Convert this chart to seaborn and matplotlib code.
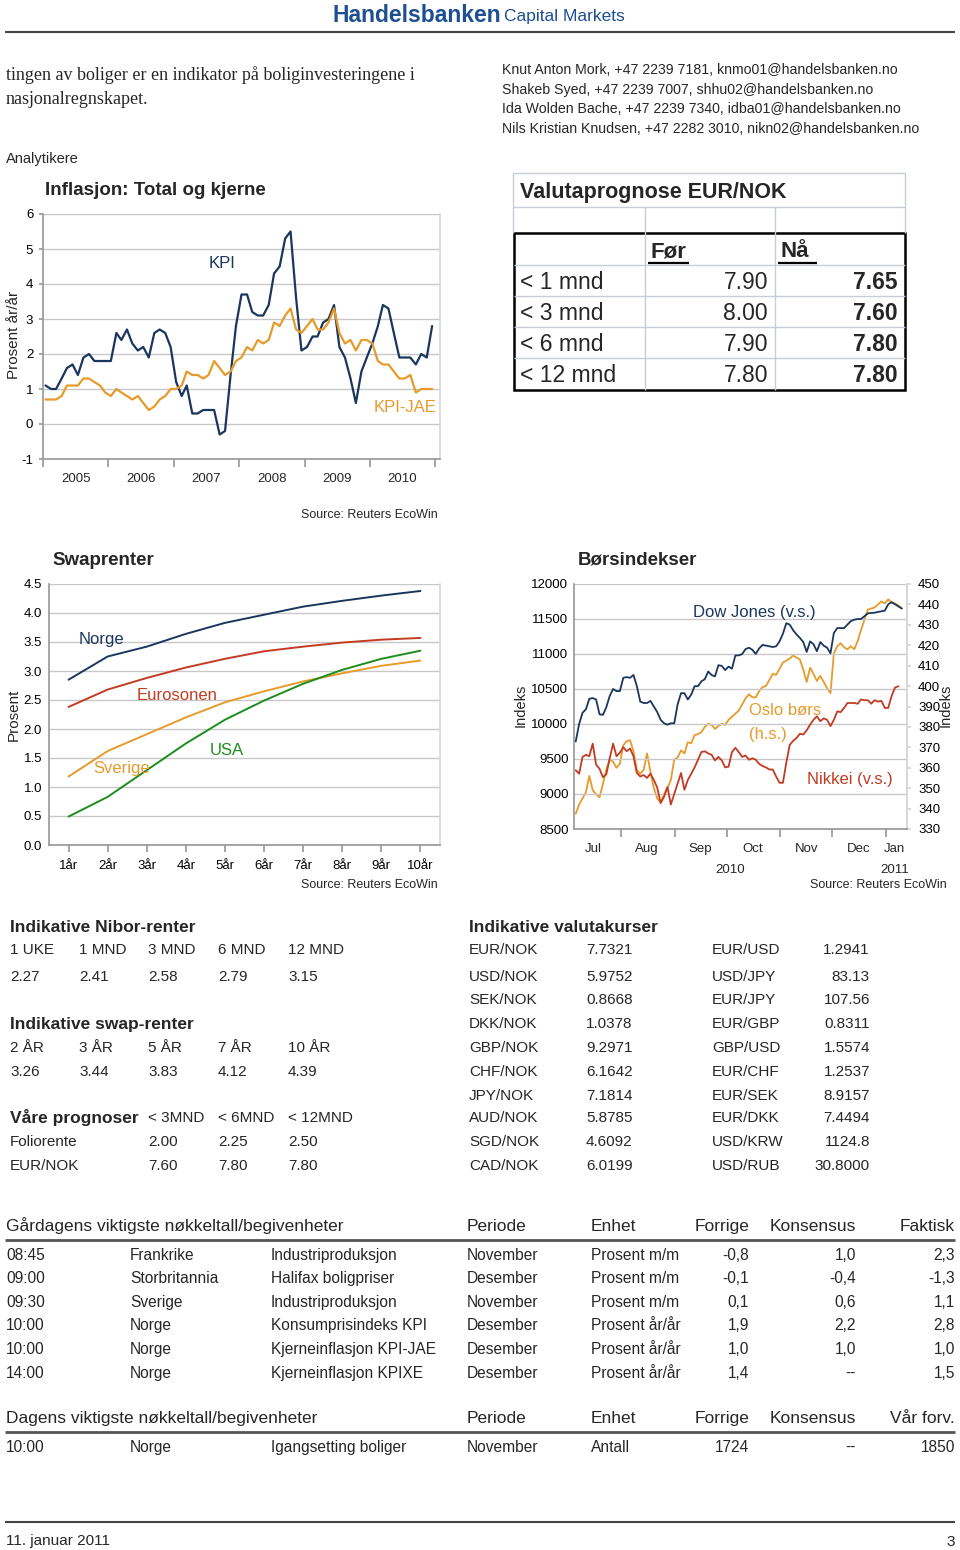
import matplotlib
matplotlib.use("Agg")
import matplotlib.pyplot as plt
import matplotlib.dates as mdates
import matplotlib.ticker as mticker
import numpy as np
import pandas as pd
import seaborn as sns

# ---------------- data ----------------
# Inflasjon: Total og kjerne (monthly, 2005-2010)
kpi = [1.1, 1.0, 1.0, 1.3, 1.6, 1.7, 1.4, 1.9, 2.0, 1.8, 1.8, 1.8,
       1.8, 2.6, 2.4, 2.7, 2.3, 2.1, 2.2, 1.9, 2.6, 2.7, 2.6, 2.2,
       1.2, 0.8, 1.1, 0.3, 0.3, 0.4, 0.4, 0.4, -0.3, -0.2, 1.4, 2.8,
       3.7, 3.7, 3.2, 3.1, 3.1, 3.4, 4.3, 4.5, 5.3, 5.5, 3.6, 2.1,
       2.2, 2.5, 2.5, 2.9, 3.0, 3.4, 2.2, 1.9, 1.3, 0.6, 1.5, 1.9,
       2.3, 2.8, 3.4, 3.3, 2.6, 1.9, 1.9, 1.9, 1.7, 2.0, 1.9, 2.8]
kpi_jae = [0.7, 0.7, 0.7, 0.8, 1.1, 1.1, 1.1, 1.3, 1.3, 1.2, 1.1, 0.9,
           0.8, 1.0, 0.9, 0.8, 0.7, 0.8, 0.6, 0.4, 0.5, 0.7, 0.8, 1.0,
           1.0, 1.1, 1.5, 1.4, 1.4, 1.3, 1.4, 1.8, 1.6, 1.4, 1.5, 1.8,
           1.9, 2.2, 2.1, 2.4, 2.3, 2.4, 2.9, 2.8, 3.1, 3.3, 2.7, 2.6,
           2.8, 3.0, 2.7, 2.7, 2.9, 3.3, 2.6, 2.3, 2.4, 2.1, 2.4, 2.4,
           2.3, 1.8, 1.7, 1.7, 1.5, 1.3, 1.3, 1.4, 0.9, 1.0, 1.0, 1.0]
inf_dates = pd.date_range("2005-01-01", periods=72, freq="MS") + pd.Timedelta(days=14)
inf_years = ["2005", "2006", "2007", "2008", "2009", "2010"]

# Swaprenter
swap_tenors = ["1år", "2år", "3år", "4år", "5år", "6år", "7år", "8år", "9år", "10år"]
swap_norge = [2.85, 3.25, 3.42, 3.64, 3.83, 3.97, 4.11, 4.21, 4.30, 4.38]
swap_euro = [2.38, 2.68, 2.88, 3.06, 3.21, 3.34, 3.42, 3.49, 3.54, 3.57]
swap_sverige = [1.18, 1.62, 1.91, 2.20, 2.46, 2.65, 2.82, 2.96, 3.09, 3.18]
swap_usa = [0.49, 0.83, 1.29, 1.75, 2.16, 2.49, 2.78, 3.02, 3.21, 3.35]

# Børsindekser (Jul 2010 - Jan 2011)
bors_dates = pd.date_range("2010-07-06", "2011-01-10", periods=97)
dow = [9750, 10000, 10160, 10210, 10360, 10370, 10350, 10140, 10130, 10240,
       10400, 10500, 10470, 10470, 10660, 10670, 10660, 10700, 10540, 10320,
       10300, 10300, 10330, 10250, 10170, 10060, 10010, 9990, 10010, 10010,
       10280, 10440, 10440, 10350, 10420, 10540, 10540, 10610, 10640, 10750,
       10700, 10680, 10840, 10830, 10770, 10820, 10790, 10980, 10980, 11000,
       11070, 11090, 11060, 11000, 11080, 11130, 11120, 11110, 11100, 11110,
       11180, 11290, 11440, 11420, 11340, 11280, 11230, 11170, 11030, 11180,
       11140, 11040, 11170, 11120, 11090, 11010, 11300, 11370, 11370, 11370,
       11420, 11470, 11490, 11500, 11500, 11540, 11580, 11586, 11590, 11600,
       11610, 11620, 11710, 11740, 11710, 11680, 11650]
oslo = [337.5, 342, 345, 348, 356, 349, 347, 345.5, 352, 359,
        364, 363, 360, 362, 371, 373, 373.5, 368, 359, 357,
        359, 367, 358, 350, 345, 343, 347, 350, 354, 364,
        365, 368.5, 367, 372.5, 372, 376, 376.5, 377.5, 380, 381.5,
        381, 379, 380.5, 381.5, 381, 383.5, 385, 386.5, 388, 391,
        394, 396, 394.5, 394.5, 397.5, 399.5, 400, 403, 406, 405.5,
        408.5, 411.5, 412.5, 413.5, 415, 414, 413, 408, 402, 409,
        406, 402.5, 405, 402, 399, 396.5, 416, 419.5, 421, 419,
        418, 419.5, 418, 422, 427.5, 432.5, 437.5, 438, 438.5, 440,
        441.5, 440.5, 442.5, 441, 440.5, 439.5, 438]
nikkei = [9340, 9290, 9530, 9560, 9540, 9720, 9420, 9360, 9240, 9280,
          9510, 9720, 9540, 9590, 9670, 9610, 9650, 9540, 9300, 9250,
          9270, 9230, 9290, 9200, 9090, 8870, 8960, 9100, 8850, 9000,
          9150, 9300, 9060, 9200, 9290, 9380, 9490, 9600, 9610, 9580,
          9560, 9480, 9530, 9480, 9380, 9390, 9600, 9660, 9600, 9530,
          9550, 9490, 9510, 9490, 9430, 9400, 9380, 9350, 9350, 9250,
          9160, 9160, 9450, 9700, 9760, 9800, 9860, 9850, 9910, 9990,
          10060, 10110, 10040, 10080, 10060, 9970, 10060, 10180, 10170, 10230,
          10300, 10300, 10300, 10290, 10350, 10340, 10340, 10290, 10340, 10320,
          10330, 10230, 10230, 10400, 10520, 10540, np.nan]
bors_months = ["Jul", "Aug", "Sep", "Oct", "Nov", "Dec", "Jan"]
bors_month_pos = ["2010-07-16", "2010-08-16", "2010-09-16", "2010-10-16",
                  "2010-11-16", "2010-12-16", "2011-01-06"]

# Valutaprognose EUR/NOK
vp_horizon = ["< 1 mnd", "< 3 mnd", "< 6 mnd", "< 12 mnd"]
vp_before = ["7.90", "8.00", "7.90", "7.80"]
vp_now = ["7.65", "7.60", "7.80", "7.80"]

# Nibor / swap / prognoser
nibor_labels = ["1 UKE", "1 MND", "3 MND", "6 MND", "12 MND"]
nibor_values = ["2.27", "2.41", "2.58", "2.79", "3.15"]
swap_labels = ["2 ÅR", "3 ÅR", "5 ÅR", "7 ÅR", "10 ÅR"]
swap_values = ["3.26", "3.44", "3.83", "4.12", "4.39"]
prog_cols = ["< 3MND", "< 6MND", "< 12MND"]
prog_folio = ["2.00", "2.25", "2.50"]
prog_eurnok = ["7.60", "7.80", "7.80"]

# Indikative valutakurser
fx_left = ["EUR/NOK", "USD/NOK", "SEK/NOK", "DKK/NOK", "GBP/NOK",
           "CHF/NOK", "JPY/NOK", "AUD/NOK", "SGD/NOK", "CAD/NOK"]
fx_left_val = ["7.7321", "5.9752", "0.8668", "1.0378", "9.2971",
               "6.1642", "7.1814", "5.8785", "4.6092", "6.0199"]
fx_right = ["EUR/USD", "USD/JPY", "EUR/JPY", "EUR/GBP", "GBP/USD",
            "EUR/CHF", "EUR/SEK", "EUR/DKK", "USD/KRW", "USD/RUB"]
fx_right_val = ["1.2941", "83.13", "107.56", "0.8311", "1.5574",
                "1.2537", "8.9157", "7.4494", "1124.8", "30.8000"]

# Nøkkeltall
ev_cols = ["Periode", "Enhet", "Forrige", "Konsensus"]
yest_time = ["08:45", "09:00", "09:30", "10:00", "10:00", "14:00"]
yest_country = ["Frankrike", "Storbritannia", "Sverige", "Norge", "Norge", "Norge"]
yest_event = ["Industriproduksjon", "Halifax boligpriser", "Industriproduksjon",
              "Konsumprisindeks KPI", "Kjerneinflasjon KPI-JAE", "Kjerneinflasjon KPIXE"]
yest_period = ["November", "Desember", "November", "Desember", "Desember", "Desember"]
yest_unit = ["Prosent m/m", "Prosent m/m", "Prosent m/m", "Prosent år/år",
             "Prosent år/år", "Prosent år/år"]
yest_prev = ["-0,8", "-0,1", "0,1", "1,9", "1,0", "1,4"]
yest_cons = ["1,0", "-0,4", "0,6", "2,2", "1,0", "--"]
yest_actual = ["2,3", "-1,3", "1,1", "2,8", "1,0", "1,5"]
today_row = ["10:00", "Norge", "Igangsetting boliger", "November", "Antall", "1724", "--", "1850"]

analysts = ["Knut Anton Mork, +47 2239 7181, knmo01@handelsbanken.no",
            "Shakeb Syed, +47 2239 7007, shhu02@handelsbanken.no",
            "Ida Wolden Bache, +47 2239 7340, idba01@handelsbanken.no",
            "Nils Kristian Knudsen, +47 2282 3010, nikn02@handelsbanken.no"]

# ---------------- style ----------------
sns.set_theme(style="white")
SANS = ["Liberation Sans", "DejaVu Sans"]
SERIF = ["Liberation Serif", "DejaVu Serif"]
plt.rcParams["font.family"] = SANS
plt.rcParams["axes.unicode_minus"] = False

NAVY = "#1b365d"
ORANGE = "#e69b2a"
RED = "#c23b22"
GREEN = "#1e8c1e"
BLUE = "#1d4f91"
GRID = "#c8c8c8"
SPINE = "#9a9a9a"
TICK = 9.5

W, H = 960, 1550
fig = plt.figure(figsize=(9.6, 15.5), dpi=100)
page = fig.add_axes([0, 0, 1, 1])
page.set_xlim(0, W)
page.set_ylim(H, 0)
page.axis("off")


def box(x0, y0, x1, y1):
    return fig.add_axes([x0 / W, 1 - y1 / H, (x1 - x0) / W, (y1 - y0) / H])


def txt(x, y, s, size=11, **kw):
    # y is the middle of the capitals; place on the baseline so rows line up
    if kw.get("rotation"):
        kw.setdefault("va", "center")
    else:
        kw.setdefault("va", "baseline")
        y = y + 0.36 * size * 100 / 72
    fig.text(x / W, 1 - y / H, s, fontsize=size, **kw)


def line(x0, x1, y0, y1, color="black", lw=1):
    page.plot([x0, x1], [y0, y1], color=color, lw=lw, solid_capstyle="butt")


def style(ax):
    ax.set_facecolor("none")
    ax.grid(axis="y", color=GRID, lw=1)
    ax.grid(axis="x", visible=False)
    ax.spines["top"].set_visible(False)
    for s in ["left", "bottom"]:
        ax.spines[s].set_color(SPINE)
    ax.spines["right"].set_color("#d8d8d8")
    ax.tick_params(labelsize=TICK, colors="black")
    ax.set_xlabel("")
    ax.set_ylabel("")


# ---------------- header ----------------
txt(333, 14, "Handelsbanken", 16.5, color=BLUE, weight="bold")
txt(504, 15, "Capital Markets", 12.5, color=BLUE)
line(5, 955, 32, 32, "#444444", 1.5)

txt(6, 73, "tingen av boliger er en indikator på boliginvesteringene i", 13, family=SERIF)
txt(6, 97, "nasjonalregnskapet.", 13, family=SERIF)
for i, a in enumerate(analysts):
    txt(502, 69 + 19.6 * i, a, 10.2)
txt(6, 158, "Analytikere", 10.5)

# ---------------- Inflasjon ----------------
txt(45, 188, "Inflasjon: Total og kjerne", 13.5, weight="bold")
ax1 = box(43, 214, 440, 459)
sns.lineplot(x=inf_dates, y=kpi, ax=ax1, color=NAVY, lw=1.6)
sns.lineplot(x=inf_dates, y=kpi_jae, ax=ax1, color=ORANGE, lw=1.6)
style(ax1)
ax1.set_ylim(-1, 6)
ax1.set_yticks(range(-1, 7))
ax1.set_xlim(pd.Timestamp("2005-01-01"), pd.Timestamp("2011-01-28"))
ax1.xaxis.set_major_locator(mdates.YearLocator())
ax1.xaxis.set_major_formatter(mticker.NullFormatter())
ax1.xaxis.set_minor_locator(mticker.FixedLocator(
    mdates.date2num(pd.to_datetime([y + "-07-02" for y in inf_years]))))
ax1.xaxis.set_minor_formatter(mticker.FixedFormatter(inf_years))
ax1.tick_params(axis="x", which="major", length=6, color=SPINE, bottom=True)
ax1.tick_params(axis="x", which="minor", length=0, pad=10, labelsize=TICK)
ax1.tick_params(axis="y", length=3, color=SPINE, left=True, pad=4)
txt(14, 335, "Prosent år/år", 11, rotation=90, ha="center")
txt(222, 262, "KPI", 12, color=NAVY, ha="center")
txt(405, 406, "KPI-JAE", 12, color=ORANGE, ha="center")
txt(438, 513, "Source: Reuters EcoWin", 9, ha="right")

# ---------------- Valutaprognose ----------------
line(513, 905, 173, 173, "#c8ccd8")
line(513, 905, 207, 207, "#c8ccd8")
line(513, 513, 173, 233, "#c8ccd8")
line(905, 905, 173, 233, "#c8ccd8")
for xv in [645, 775]:
    line(xv, xv, 207, 390, "#c8ccd8")
for yv in [265, 296, 327, 358]:
    line(514, 905, yv, yv, "#c8ccd8")
page.add_patch(plt.Rectangle((514, 233), 391, 157, fill=False, ec="black", lw=1.8))
txt(520, 190, "Valutaprognose EUR/NOK", 15.5, weight="bold")
txt(650, 249, "Før", 16, weight="bold")
txt(780, 249, "Nå", 16, weight="bold")
line(648, 689, 263, 263, "black", 1.6)
line(778, 817, 263, 263, "black", 1.6)
for i, (h, b, n) in enumerate(zip(vp_horizon, vp_before, vp_now)):
    yy = 281 + 31 * i
    txt(520, yy, h, 16.5)
    txt(768, yy, b, 16.5, ha="right")
    txt(898, yy, n, 16.5, ha="right", weight="bold")

# ---------------- Swaprenter ----------------
txt(52, 558, "Swaprenter", 13.5, weight="bold")
ax2 = box(49, 584, 440, 845)
for vals, col in [(swap_norge, NAVY), (swap_euro, RED), (swap_sverige, ORANGE), (swap_usa, GREEN)]:
    sns.lineplot(x=swap_tenors, y=vals, ax=ax2, color=col, lw=1.4, sort=False)
style(ax2)
ax2.set_xlim(-0.5, 9.5)
ax2.set_ylim(0, 4.5)
ax2.set_yticks(np.arange(0, 4.51, 0.5))
ax2.yaxis.set_major_formatter(mticker.FormatStrFormatter("%.1f"))
ax2.tick_params(axis="x", length=5, color=SPINE, bottom=True, pad=6)
ax2.tick_params(axis="y", length=0, pad=5)
txt(14, 715, "Prosent", 11, rotation=90, ha="center")
txt(79, 638, "Norge", 12, color=NAVY)
txt(137, 694, "Eurosonen", 12, color=RED)
txt(93, 767, "Sverige", 12, color=ORANGE)
txt(210, 749, "USA", 12, color=GREEN)
txt(438, 883, "Source: Reuters EcoWin", 9, ha="right")

# ---------------- Børsindekser ----------------
txt(578, 558, "Børsindekser", 13.5, weight="bold")
ax3 = box(574, 584, 907, 829)
ax3b = ax3.twinx()
sns.lineplot(x=bors_dates, y=oslo, ax=ax3b, color=ORANGE, lw=1.3)
sns.lineplot(x=bors_dates, y=nikkei, ax=ax3, color=RED, lw=1.3)
sns.lineplot(x=bors_dates, y=dow, ax=ax3, color=NAVY, lw=1.3)
ax3.set_zorder(ax3b.get_zorder() + 1)
style(ax3)
ax3b.set_xlabel("")
ax3b.set_ylabel("")
ax3b.grid(False)
for s in ["top", "left", "bottom"]:
    ax3b.spines[s].set_visible(False)
ax3b.spines["right"].set_color("#d8d8d8")
ax3.set_ylim(8500, 12000)
ax3.set_yticks(range(8500, 12001, 500))
ax3b.set_ylim(330, 450)
ax3b.set_yticks(range(330, 451, 10))
ax3.set_xlim(pd.Timestamp("2010-07-05"), pd.Timestamp("2011-01-13"))
ax3.xaxis.set_major_locator(mdates.MonthLocator())
ax3.xaxis.set_major_formatter(mticker.NullFormatter())
ax3.xaxis.set_minor_locator(mticker.FixedLocator(mdates.date2num(pd.to_datetime(bors_month_pos))))
ax3.xaxis.set_minor_formatter(mticker.FixedFormatter(bors_months))
ax3.tick_params(axis="x", which="major", length=6, color=SPINE, bottom=True)
ax3.tick_params(axis="x", which="minor", length=0, pad=10, labelsize=TICK)
ax3.tick_params(axis="y", length=0, pad=4)
ax3b.tick_params(axis="y", length=3, color="#d8d8d8", pad=5, labelsize=TICK, colors="black")
txt(521, 705, "Indeks", 10.5, rotation=90, ha="center")
txt(946, 705, "Indeks", 10.5, rotation=90, ha="center")
txt(730, 868, "2010", TICK, ha="center")
txt(895, 868, "2011", TICK, ha="center")
txt(693, 611, "Dow Jones (v.s.)", 12, color=NAVY)
txt(749, 709, "Oslo børs", 12, color=ORANGE)
txt(749, 733, "(h.s.)", 12, color=ORANGE)
txt(807, 778, "Nikkei (v.s.)", 12, color=RED)
txt(947, 883, "Source: Reuters EcoWin", 9, ha="right")

# ---------------- Nibor / swap / prognoser ----------------
cols = [10, 79, 148, 218, 288]
txt(10, 926, "Indikative Nibor-renter", 12.5, weight="bold")
for x, lab, val in zip(cols, nibor_labels, nibor_values):
    txt(x, 949, lab, 11)
    txt(x, 976, val, 11)
txt(10, 1023, "Indikative swap-renter", 12.5, weight="bold")
for x, lab, val in zip(cols, swap_labels, swap_values):
    txt(x, 1046, lab, 11)
    txt(x, 1070, val, 11)
txt(10, 1117, "Våre prognoser", 12.5, weight="bold")
txt(10, 1141, "Foliorente", 11)
txt(10, 1165, "EUR/NOK", 11)
for x, lab, f, e in zip(cols[2:], prog_cols, prog_folio, prog_eurnok):
    txt(x, 1117, lab, 11)
    txt(x, 1141, f, 11)
    txt(x, 1165, e, 11)

txt(469, 926, "Indikative valutakurser", 12.5, weight="bold")
fx_rows = [949, 976, 999, 1023, 1046, 1070, 1094, 1117, 1141, 1165]
for yy, a, av, b, bv in zip(fx_rows, fx_left, fx_left_val, fx_right, fx_right_val):
    txt(469, yy, a, 11)
    txt(586, yy, av, 11)
    txt(712, yy, b, 11)
    txt(870, yy, bv, 11, ha="right")

# ---------------- Nøkkeltall ----------------
def header(y, title, last):
    txt(6, y, title, 12.5)
    txt(467, y, ev_cols[0], 12.5)
    txt(591, y, ev_cols[1], 12.5)
    txt(749, y, ev_cols[2], 12.5, ha="right")
    txt(856, y, ev_cols[3], 12.5, ha="right")
    txt(955, y, last, 12.5, ha="right")
    line(5, 955, y + 15, y + 15, "#555555", 2)


def ev_row(y, vals):
    for x, v in zip([6, 130, 271, 467, 591], vals[:5]):
        txt(x, y, v, 11.2)
    for x, v in zip([749, 856, 955], vals[5:]):
        txt(x, y, v, 11.2, ha="right")


header(1225, "Gårdagens viktigste nøkkeltall/begivenheter", "Faktisk")
for i, row in enumerate(zip(yest_time, yest_country, yest_event, yest_period,
                            yest_unit, yest_prev, yest_cons, yest_actual)):
    ev_row(1254 + 23.6 * i, row)

header(1417, "Dagens viktigste nøkkeltall/begivenheter", "Vår forv.")
ev_row(1446, today_row)

line(5, 955, 1522, 1522, "#444444", 1.5)
txt(6, 1540, "11. januar 2011", 11)
txt(955, 1540, "3", 11, ha="right")

fig.savefig("out.png", dpi=100)
